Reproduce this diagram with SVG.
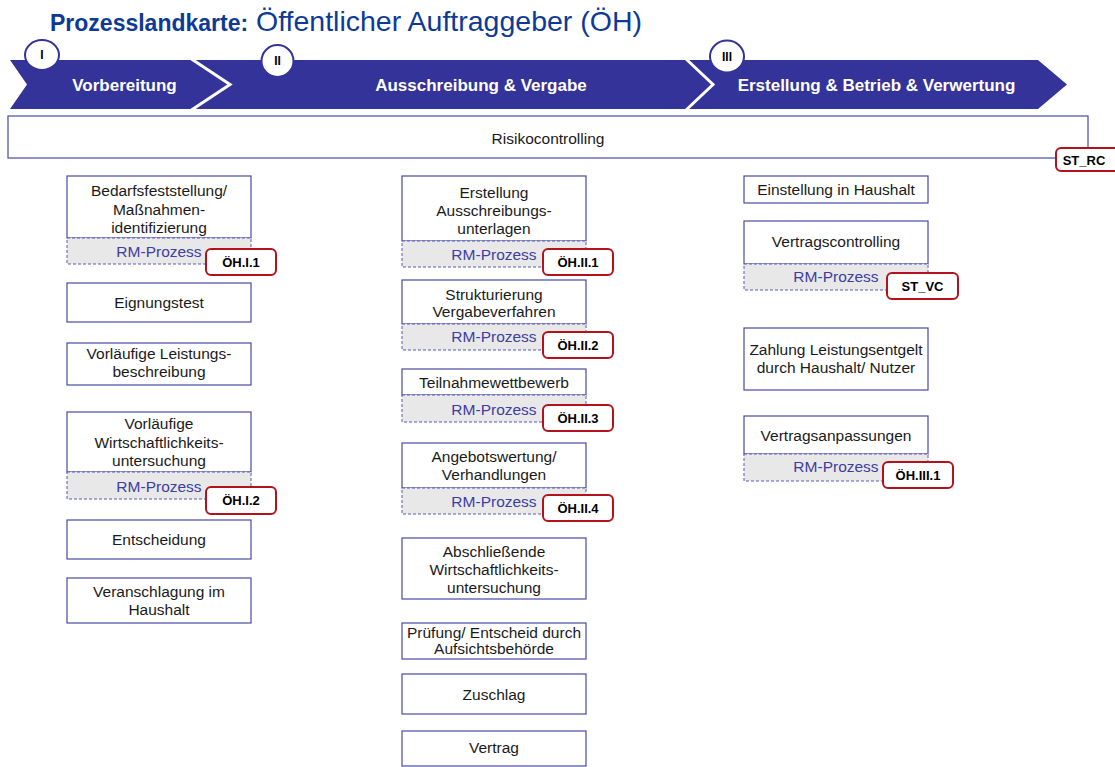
<svg xmlns="http://www.w3.org/2000/svg" width="1115" height="767" viewBox="0 0 1115 767">
<style>
text{font-family:"Liberation Sans",Arial,sans-serif}
.box{fill:#fff;stroke:#4a4aa8;stroke-width:1.2}
.rm{fill:#e8e8e8;stroke:#5a5ab4;stroke-width:1;stroke-dasharray:3 2}
.t{font-size:15.5px;fill:#1a1a1a;text-anchor:middle}
.rmt{font-size:15.5px;fill:#3d3da2;text-anchor:middle}
.lb{fill:#fff;stroke:#b3121c;stroke-width:2}
.lt{font-size:13px;font-weight:bold;fill:#000;text-anchor:middle}
.ph{font-size:17px;font-weight:bold;fill:#fff;text-anchor:middle}
.circ{fill:#fff;stroke:#333399;stroke-width:2}
.num{font-size:12px;font-weight:bold;fill:#000;text-anchor:middle}
</style>
<g id="title">
<text x="50" y="31" style="font-size:23px;font-weight:bold;fill:#0d3a96">Prozesslandkarte:</text>
<text x="256" y="31" style="font-size:28.5px;fill:#0d3a96">Öffentlicher Auftraggeber (ÖH)</text>
</g>
<g id="phases">
<polygon points="10,60 1038,60 1067,84.5 1038,109 10,109 27,84.5" fill="#333399"/>
<polyline points="190,58 230,84.5 190,111" fill="none" stroke="#fff" stroke-width="3"/>
<polyline points="685,58 713,84.5 685,111" fill="none" stroke="#fff" stroke-width="3"/>
<ellipse class="circ" cx="42" cy="55" rx="17" ry="15"/>
<text class="num" x="42" y="59">I</text>
<ellipse class="circ" cx="277.5" cy="61" rx="16" ry="16"/>
<text class="num" x="277.5" y="65">II</text>
<ellipse class="circ" cx="727" cy="56.5" rx="17" ry="16"/>
<text class="num" x="727" y="61">III</text>
<text class="ph" x="124.5" y="91">Vorbereitung</text>
<text class="ph" x="481" y="91">Ausschreibung &amp; Vergabe</text>
<text class="ph" x="876.5" y="91">Erstellung &amp; Betrieb &amp; Verwertung</text>
</g>
<g id="risikocontrolling">
<rect class="box" x="8" y="116" width="1080" height="42"/>
<text class="t" x="548" y="144">Risikocontrolling</text>
<rect class="lb" x="1056" y="148" width="70" height="23" rx="5"/>
<text class="lt" x="1084" y="164.5">ST_RC</text>
</g>
<g id="connectors"></g>
<g id="n-bedarf">
<rect class="box" x="67" y="176" width="184" height="62"/>
<rect class="rm" x="67" y="238" width="184" height="26"/>
<text class="t" x="159" y="196">Bedarfsfeststellung/</text>
<text class="t" x="159" y="214.5">Maßnahmen-</text>
<text class="t" x="159" y="233">identifizierung</text>
<text class="rmt" x="159" y="257">RM-Prozess</text>
<rect class="lb" x="206" y="249" width="70" height="26" rx="5"/>
<text class="lt" x="241" y="266.5">ÖH.I.1</text>
</g>
<g id="n-eignung">
<rect class="box" x="67" y="283" width="184" height="39"/>
<text class="t" x="159" y="308">Eignungstest</text>
</g>
<g id="n-leistung">
<rect class="box" x="67" y="343" width="184" height="42"/>
<text class="t" x="159" y="359">Vorläufige Leistungs-</text>
<text class="t" x="159" y="377">beschreibung</text>
</g>
<g id="n-wu1">
<rect class="box" x="67" y="412" width="184" height="60"/>
<rect class="rm" x="67" y="472" width="184" height="27"/>
<text class="t" x="159" y="429">Vorläufige</text>
<text class="t" x="159" y="447.5">Wirtschaftlichkeits-</text>
<text class="t" x="159" y="466">untersuchung</text>
<text class="rmt" x="159" y="492">RM-Prozess</text>
<rect class="lb" x="206" y="487" width="70" height="27" rx="5"/>
<text class="lt" x="241" y="505">ÖH.I.2</text>
</g>
<g id="n-entscheidung">
<rect class="box" x="67" y="520" width="184" height="39"/>
<text class="t" x="159" y="545">Entscheidung</text>
</g>
<g id="n-veranschlagung">
<rect class="box" x="67" y="578" width="184" height="45"/>
<text class="t" x="159" y="597">Veranschlagung im</text>
<text class="t" x="159" y="615">Haushalt</text>
</g>
<g id="n-erstellung">
<rect class="box" x="402" y="176" width="184" height="65"/>
<rect class="rm" x="402" y="241" width="184" height="26"/>
<text class="t" x="494" y="198">Erstellung</text>
<text class="t" x="494" y="216">Ausschreibungs-</text>
<text class="t" x="494" y="234">unterlagen</text>
<text class="rmt" x="494" y="260">RM-Prozess</text>
<rect class="lb" x="543" y="249" width="70" height="26" rx="5"/>
<text class="lt" x="578" y="266.5">ÖH.II.1</text>
</g>
<g id="n-struktur">
<rect class="box" x="402" y="280" width="184" height="44"/>
<rect class="rm" x="402" y="324" width="184" height="26"/>
<text class="t" x="494" y="300">Strukturierung</text>
<text class="t" x="494" y="317">Vergabeverfahren</text>
<text class="rmt" x="494" y="342">RM-Prozess</text>
<rect class="lb" x="543" y="332" width="70" height="26" rx="5"/>
<text class="lt" x="578" y="349.5">ÖH.II.2</text>
</g>
<g id="n-teilnahme">
<rect class="box" x="402" y="369" width="184" height="26"/>
<rect class="rm" x="402" y="395" width="184" height="27"/>
<text class="t" x="494" y="388">Teilnahmewettbewerb</text>
<text class="rmt" x="494" y="415">RM-Prozess</text>
<rect class="lb" x="543" y="405" width="70" height="26" rx="5"/>
<text class="lt" x="578" y="422.5">ÖH.II.3</text>
</g>
<g id="n-angebot">
<rect class="box" x="402" y="443" width="184" height="45"/>
<rect class="rm" x="402" y="488" width="184" height="26"/>
<text class="t" x="494" y="462">Angebotswertung/</text>
<text class="t" x="494" y="480">Verhandlungen</text>
<text class="rmt" x="494" y="507">RM-Prozess</text>
<rect class="lb" x="543" y="495" width="70" height="26" rx="5"/>
<text class="lt" x="578" y="512.5">ÖH.II.4</text>
</g>
<g id="n-wu2">
<rect class="box" x="402" y="538" width="184" height="61"/>
<text class="t" x="494" y="557">Abschließende</text>
<text class="t" x="494" y="575">Wirtschaftlichkeits-</text>
<text class="t" x="494" y="593">untersuchung</text>
</g>
<g id="n-pruefung">
<rect class="box" x="402" y="623" width="184" height="36"/>
<text class="t" x="494" y="637.5">Prüfung/ Entscheid durch</text>
<text class="t" x="494" y="654">Aufsichtsbehörde</text>
</g>
<g id="n-zuschlag">
<rect class="box" x="402" y="674" width="184" height="40"/>
<text class="t" x="494" y="700">Zuschlag</text>
</g>
<g id="n-vertrag">
<rect class="box" x="402" y="731" width="184" height="35"/>
<text class="t" x="494" y="753">Vertrag</text>
</g>
<g id="n-einstellung">
<rect class="box" x="744" y="176" width="184" height="27"/>
<text class="t" x="836" y="195">Einstellung in Haushalt</text>
</g>
<g id="n-vertragscontrolling">
<rect class="box" x="744" y="221" width="184" height="43"/>
<rect class="rm" x="744" y="264" width="184" height="26"/>
<text class="t" x="836" y="247">Vertragscontrolling</text>
<text class="rmt" x="836" y="282">RM-Prozess</text>
<rect class="lb" x="887" y="273" width="71" height="26" rx="5"/>
<text class="lt" x="922.5" y="290.5">ST_VC</text>
</g>
<g id="n-zahlung">
<rect class="box" x="744" y="328" width="184" height="62"/>
<text class="t" x="836" y="355">Zahlung Leistungsentgelt</text>
<text class="t" x="836" y="373">durch Haushalt/ Nutzer</text>
</g>
<g id="n-anpassung">
<rect class="box" x="744" y="416" width="184" height="38"/>
<rect class="rm" x="744" y="454" width="184" height="27"/>
<text class="t" x="836" y="441">Vertragsanpassungen</text>
<text class="rmt" x="836" y="472">RM-Prozess</text>
<rect class="lb" x="883" y="462" width="70" height="26" rx="5"/>
<text class="lt" x="918" y="479.5">ÖH.III.1</text>
</g>
</svg>
